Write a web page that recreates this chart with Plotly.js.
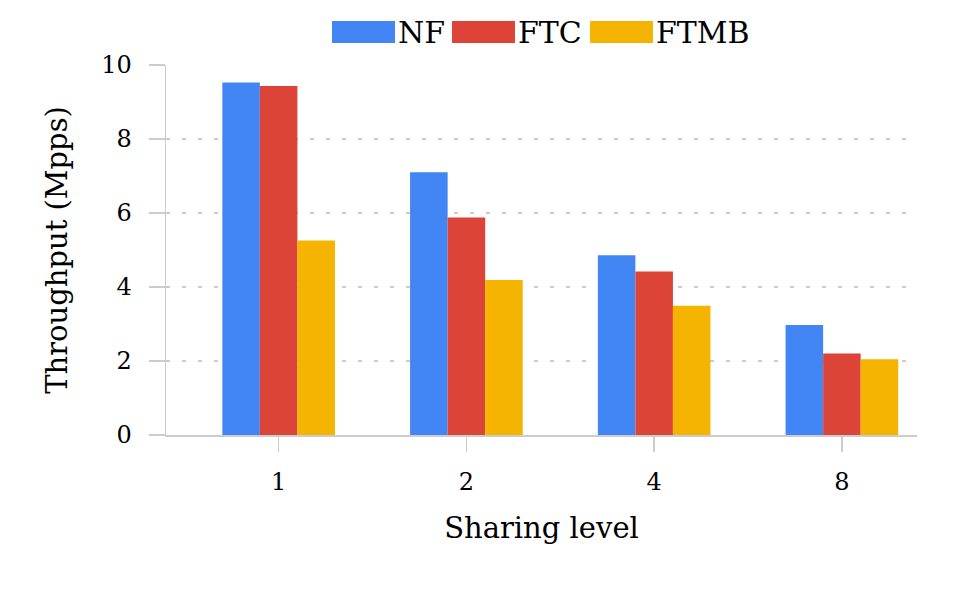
<!DOCTYPE html>
<html>
<head>
<meta charset="utf-8">
<script src="https://cdn.plot.ly/plotly-3.0.1.min.js"></script>
<style>html,body{margin:0;padding:0;background:#fff}</style>
</head>
<body>
<div id="chart" style="width:969px;height:599px"></div>
<script>
// data
var levels = ["1", "2", "4", "8"];
var seriesNames = ["NF", "FTC", "FTMB"];
var nf = [9.53, 7.10, 4.86, 2.97];
var ftc = [9.43, 5.88, 4.42, 2.20];
var ftmb = [5.26, 4.19, 3.49, 2.05];
var colors = ["#4285F4", "#DB4437", "#F4B400"];
var yTicks = [0, 2, 4, 6, 8, 10];

var W = 969, H = 599;
var margin = {l: 166, r: 52, t: 65, b: 164};
var plotW = W - margin.l - margin.r, plotH = H - margin.t - margin.b;
function px2x(px) { return (px - margin.l) / plotW; }
function px2y(py) { return (H - margin.b - py) / plotH; }

var font = "DejaVu Serif";
var grey = "#cccccc";
var values = [nf, ftc, ftmb];

var traces = [];
for (var i = 0; i < seriesNames.length; i++) {
  traces.push({
    type: "bar",
    name: seriesNames[i],
    x: levels,
    y: values[i],
    marker: {color: colors[i], line: {width: 0}},
    hoverinfo: "none"
  });
}

// legend drawn by hand so the swatches can be wide
var swatchLeft = [332, 452, 590];
var swatchW = 63, swatchTop = 21, swatchBot = 43;
var shapes = [], annotations = [];
for (var i = 0; i < seriesNames.length; i++) {
  shapes.push({
    type: "rect", xref: "paper", yref: "paper",
    x0: px2x(swatchLeft[i]), x1: px2x(swatchLeft[i] + swatchW),
    y0: px2y(swatchBot), y1: px2y(swatchTop),
    fillcolor: colors[i], line: {width: 0}
  });
  annotations.push({
    xref: "paper", yref: "paper",
    x: px2x(swatchLeft[i] + swatchW + 1), y: px2y((swatchTop + swatchBot) / 2),
    xanchor: "left", yanchor: "middle", showarrow: false,
    text: seriesNames[i],
    font: {family: font, size: 30, color: "#000"}
  });
}

var layout = {
  width: W, height: H,
  margin: margin,
  paper_bgcolor: "#fff", plot_bgcolor: "#fff",
  showlegend: false,
  barmode: "group",
  bargap: 0.4,
  bargroupgap: 0,
  font: {family: font, color: "#000"},
  xaxis: {
    type: "category",
    range: [-0.6, 3.4],
    showline: true, linecolor: grey, linewidth: 1.5,
    ticks: "outside", ticklen: 15, tickcolor: grey, tickwidth: 1.5,
    showgrid: false,
    tickfont: {family: font, size: 24, color: "#000"},
    ticklabelstandoff: 10,
    title: {text: "Sharing level", font: {family: font, size: 29, color: "#000"}, standoff: 22},
    automargin: false
  },
  yaxis: {
    range: [0, 10],
    tickvals: yTicks,
    showline: true, linecolor: grey, linewidth: 1.5,
    ticks: "outside", ticklen: 16, tickcolor: grey, tickwidth: 1.5,
    showgrid: true, gridcolor: grey, gridwidth: 2, griddash: "4px,12px",
    zeroline: false,
    tickfont: {family: font, size: 24, color: "#000"},
    ticklabelstandoff: 12,
    title: {text: "Throughput (Mpps)", font: {family: font, size: 29, color: "#000"}, standoff: 25},
    automargin: false
  },
  shapes: shapes,
  annotations: annotations
};

Plotly.newPlot("chart", traces, layout, {staticPlot: true, displayModeBar: false});
</script>
</body>
</html>
